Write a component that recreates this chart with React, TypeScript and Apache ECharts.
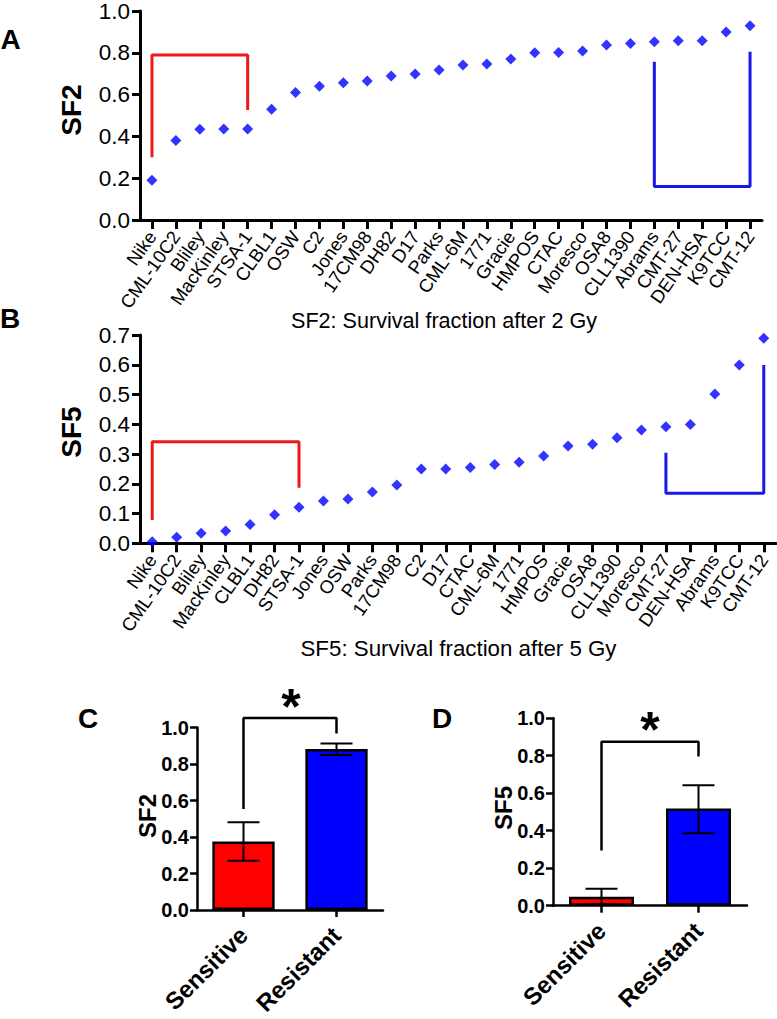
import React, { useEffect, useRef } from "react";
import * as echarts from "echarts";

const FONT = '"Liberation Sans", Arial, Helvetica, sans-serif';

// Panel A: SF2 per cell line
const sf2Cats = ["Nike", "CML-10C2", "Bliley", "MacKinley", "STSA-1", "CLBL1", "OSW", "C2", "Jones", "17CM98", "DH82", "D17", "Parks", "CML-6M", "1771", "Gracie", "HMPOS", "CTAC", "Moresco", "OSA8", "CLL1390", "Abrams", "CMT-27", "DEN-HSA", "K9TCC", "CMT-12"];
const sf2Vals = [0.19, 0.38, 0.434, 0.435, 0.435, 0.53, 0.61, 0.64, 0.657, 0.665, 0.689, 0.699, 0.718, 0.742, 0.746, 0.77, 0.80, 0.802, 0.809, 0.837, 0.845, 0.853, 0.858, 0.858, 0.90, 0.93];
const sf2SensBracket = [[0, 0.30], [0, 0.79], [4, 0.79], [4, 0.526]];
const sf2ResBracket = [[21, 0.757], [21, 0.16], [25, 0.16], [25, 0.805]];

// Panel B: SF5 per cell line
const sf5Cats = ["Nike", "CML-10C2", "Bliley", "MacKinley", "CLBL1", "DH82", "STSA-1", "Jones", "OSW", "Parks", "17CM98", "C2", "D17", "CTAC", "CML-6M", "1771", "HMPOS", "Gracie", "OSA8", "CLL1390", "Moresco", "CMT-27", "DEN-HSA", "Abrams", "K9TCC", "CMT-12"];
const sf5Vals = [0.005, 0.02, 0.034, 0.041, 0.063, 0.096, 0.121, 0.142, 0.149, 0.172, 0.196, 0.25, 0.25, 0.255, 0.265, 0.272, 0.293, 0.327, 0.333, 0.355, 0.381, 0.392, 0.399, 0.502, 0.599, 0.689];
const sf5SensBracket = [[0, 0.078], [0, 0.341], [6, 0.341], [6, 0.187]];
const sf5ResBracket = [[21, 0.304], [21, 0.168], [25, 0.168], [25, 0.599]];

// Panels C and D: group means with error bars
const groups = ["Sensitive", "Resistant"];
const sf2Means = [0.376, 0.882];
const sf2Low = [0.27, 0.849];
const sf2High = [0.481, 0.913];
const sf2Sig = [[0, 0.553], [0, 1.052], [1, 1.052], [1, 0.967]];
const sf5Means = [0.048, 0.518];
const sf5Low = [0.006, 0.387];
const sf5High = [0.090, 0.642];
const sf5Sig = [[0, 0.295], [0, 0.875], [1, 0.875], [1, 0.796]];

const RED = "#ff0000";
const BLUE = "#0000ff";

function catAxis(gridIndex: number, data: string[], big: boolean, rot = 45) {
  return {
    type: "category",
    gridIndex,
    data,
    boundaryGap: true,
    axisLine: { show: true, lineStyle: { color: "#000", width: big ? 3 : 2.5 } },
    axisTick: { show: true, alignWithLabel: true, length: big ? 9 : 7, lineStyle: { color: "#000", width: big ? 3 : 2.5 } },
    axisLabel: big
      ? { interval: 0, rotate: rot, margin: 13, fontSize: 18.5, color: "#000", fontFamily: FONT, hideOverlap: false }
      : { interval: 0, rotate: rot, margin: 21, fontSize: 24, fontWeight: "bold", color: "#000", fontFamily: FONT },
    splitLine: { show: false },
  };
}

function valAxis(gridIndex: number, max: number, interval: number, big: boolean) {
  return {
    type: "value",
    gridIndex,
    min: 0,
    max,
    interval,
    axisLine: { show: true, lineStyle: { color: "#000", width: big ? 3 : 2.5 } },
    axisTick: { show: true, length: big ? 8 : 7, lineStyle: { color: "#000", width: big ? 3 : 2.5 } },
    axisLabel: big
      ? { fontSize: 22.5, margin: 10, color: "#000", fontFamily: FONT, formatter: (v: number) => v.toFixed(1) }
      : { fontSize: 20, fontWeight: "bold", margin: 8, color: "#000", fontFamily: FONT, formatter: (v: number) => v.toFixed(1) },
    splitLine: { show: false },
  };
}

function bracket(data: number[][], color: string, idx: number, width: number) {
  return {
    type: "line",
    xAxisIndex: idx,
    yAxisIndex: idx,
    data,
    symbol: "none",
    clip: false,
    silent: true,
    z: 5,
    lineStyle: { color, width },
  };
}

function errorBars(idx: number, low: number[], high: number[]) {
  return {
    type: "custom",
    xAxisIndex: idx,
    yAxisIndex: idx,
    z: 4,
    silent: true,
    data: low.map((l, i) => [i, l, high[i]]),
    renderItem: (params: any, api: any) => {
      const x = api.value(0);
      const lo = api.coord([x, api.value(1)]);
      const hi = api.coord([x, api.value(2)]);
      const hw = 16;
      const st = { stroke: "#000", lineWidth: 2 };
      return {
        type: "group",
        children: [
          { type: "line", shape: { x1: lo[0], y1: lo[1], x2: hi[0], y2: hi[1] }, style: st },
          { type: "line", shape: { x1: hi[0] - hw, y1: hi[1], x2: hi[0] + hw, y2: hi[1] }, style: st },
          { type: "line", shape: { x1: lo[0] - hw, y1: lo[1], x2: lo[0] + hw, y2: lo[1] }, style: st },
        ],
      };
    },
  };
}

function barSeries(idx: number, means: number[]) {
  return {
    type: "bar",
    xAxisIndex: idx,
    yAxisIndex: idx,
    barWidth: "67%",
    data: means.map((m, i) => ({
      value: m,
      itemStyle: { color: i === 0 ? RED : BLUE, borderColor: "#000", borderWidth: 2.5 },
    })),
  };
}

function txt(text: string, x: number, y: number, fontSize: number, bold: boolean, rotation = 0) {
  return {
    type: "text",
    x,
    y,
    rotation,
    silent: true,
    style: {
      text,
      fontSize,
      fontWeight: bold ? "bold" : "normal",
      fontFamily: FONT,
      fill: "#000",
      align: "center",
      verticalAlign: "middle",
    },
  };
}

export default function App() {
  const ref = useRef<HTMLDivElement>(null);
  useEffect(() => {
    if (!ref.current) return;
    const chart = echarts.init(ref.current, null, { renderer: "svg" });
    const gridBase = { containLabel: false, outerBoundsMode: "none" };
    chart.setOption({
      animation: false,
      backgroundColor: "#fff",
      grid: [
        { ...gridBase, left: 140, top: 11, width: 622, height: 209 },
        { ...gridBase, left: 140, top: 335, width: 636, height: 208.3 },
        { ...gridBase, left: 197, top: 727.5, width: 186, height: 182.5 },
        { ...gridBase, left: 553, top: 718.2, width: 194, height: 187.5 },
      ],
      xAxis: [
        catAxis(0, sf2Cats, true, 55),
        catAxis(1, sf5Cats, true, 55),
        catAxis(2, groups, false),
        catAxis(3, groups, false),
      ],
      yAxis: [
        valAxis(0, 1, 0.2, true),
        valAxis(1, 0.7, 0.1, true),
        valAxis(2, 1, 0.2, false),
        valAxis(3, 1, 0.2, false),
      ],
      series: [
        { type: "scatter", xAxisIndex: 0, yAxisIndex: 0, data: sf2Vals, symbol: "diamond", symbolSize: 11, itemStyle: { color: BLUE }, z: 6 },
        bracket(sf2SensBracket, "#f01818", 0, 3),
        bracket(sf2ResBracket, "#1818e8", 0, 3),
        { type: "scatter", xAxisIndex: 1, yAxisIndex: 1, data: sf5Vals, symbol: "diamond", symbolSize: 11, itemStyle: { color: BLUE }, z: 6 },
        bracket(sf5SensBracket, "#f01818", 1, 3),
        bracket(sf5ResBracket, "#1818e8", 1, 3),
        barSeries(2, sf2Means),
        errorBars(2, sf2Low, sf2High),
        bracket(sf2Sig, "#000", 2, 2.5),
        barSeries(3, sf5Means),
        errorBars(3, sf5Low, sf5High),
        bracket(sf5Sig, "#000", 3, 2.5),
      ],
      graphic: [
        txt("A", 10.5, 39, 28, true),
        txt("B", 10, 318, 28, true),
        txt("C", 88, 718, 28, true),
        txt("D", 442, 718, 28, true),
        txt("SF2", 71, 110, 28, true, Math.PI / 2),
        txt("SF5", 71, 432, 28, true, Math.PI / 2),
        txt("SF2", 147, 816, 24, true, Math.PI / 2),
        txt("SF5", 503, 808, 24, true, Math.PI / 2),
        txt("SF2: Survival fraction after 2 Gy", 444, 320, 21.6, false),
        txt("SF5: Survival fraction after 5 Gy", 458.5, 648, 22.3, false),
        txt("*", 291, 707, 50, true),
        txt("*", 650, 730, 50, true),
      ],
    });
    return () => chart.dispose();
  }, []);
  return <div ref={ref} style={{ position: "fixed", left: 0, top: 0, width: 777, height: 1019 }} />;
}
